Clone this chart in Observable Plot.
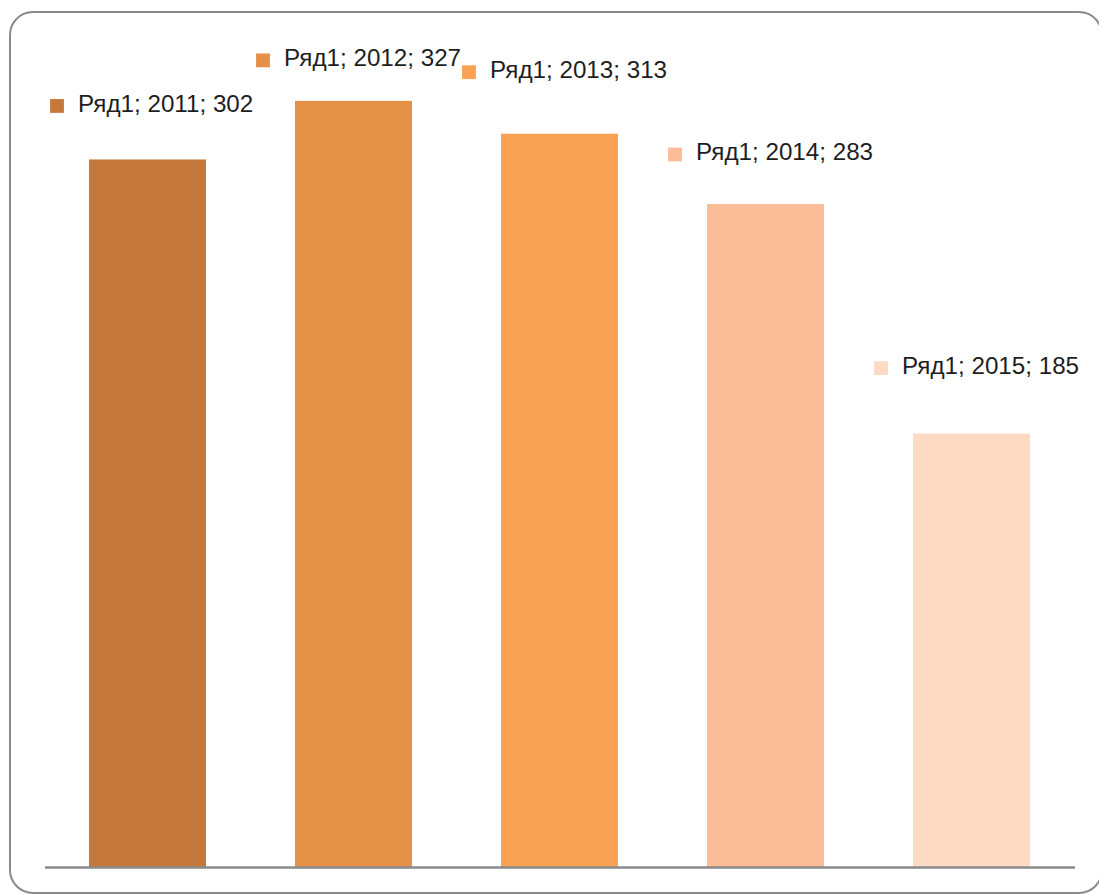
<!DOCTYPE html>
<html>
<head>
<meta charset="utf-8">
<script src="https://cdn.jsdelivr.net/npm/d3@7"></script>
<script src="https://cdn.jsdelivr.net/npm/@observablehq/plot@0.6"></script>
<style>
  html, body { margin: 0; padding: 0; background: #ffffff; }
  #wrap { position: relative; width: 1099px; height: 896px; overflow: hidden; }
  #frame {
    position: absolute; left: 9px; top: 11px; width: 1090px; height: 879px;
    border: 2px solid #8a8a8a; border-radius: 24px; box-sizing: content-box;
  }
  #chart { position: absolute; left: 0; top: 0; }
</style>
</head>
<body>
<div id="wrap"><div id="frame"></div><div id="chart"></div></div>
<script>
// ---- data ----
const seriesName = "Ряд1";
const years = ["2011", "2012", "2013", "2014", "2015"];
const values = [302, 327, 313, 283, 185];
const colors = ["#C4783B", "#E59047", "#F9A253", "#FBBD98", "#FDDAC4"];

// label lift above each bar top (px), as placed in the original
const labelLift = [56, 43, 64, 52, 68];

const rows = years.map((y, i) => ({year: y, value: values[i], color: colors[i],
  label: `${seriesName}; ${y}; ${values[i]}`}));

const labelMarks = rows.flatMap((r, i) => [
  Plot.dot([r], {x: "year", y: "value", fill: "color", symbol: "square", r: 7.8,
    dx: -91, dy: -labelLift[i] + 2}),
  Plot.text([r], {x: "year", y: "value", text: "label", textAnchor: "start",
    lineAnchor: "middle", dx: -70, dy: -labelLift[i], fill: "#1e1e1e",
    fontSize: 24.2, fontFamily: "Liberation Sans, Arial, sans-serif"})
]);

const chart = Plot.plot({
  width: 1099,
  height: 896,
  marginLeft: 45,
  marginRight: 24,
  marginTop: 47,
  marginBottom: 29,
  style: {background: "transparent", fontFamily: "Liberation Sans, Arial, sans-serif"},
  x: {domain: years, paddingInner: 0.432, paddingOuter: 0.216, axis: null},
  y: {domain: [0, 350], axis: null},
  marks: [
    Plot.barY(rows, {x: "year", y: "value", fill: "color"}),
    Plot.ruleY([0], {stroke: "#8a8a8a", strokeWidth: 2.5}),
    ...labelMarks
  ]
});
document.getElementById("chart").appendChild(chart);
</script>
</body>
</html>
